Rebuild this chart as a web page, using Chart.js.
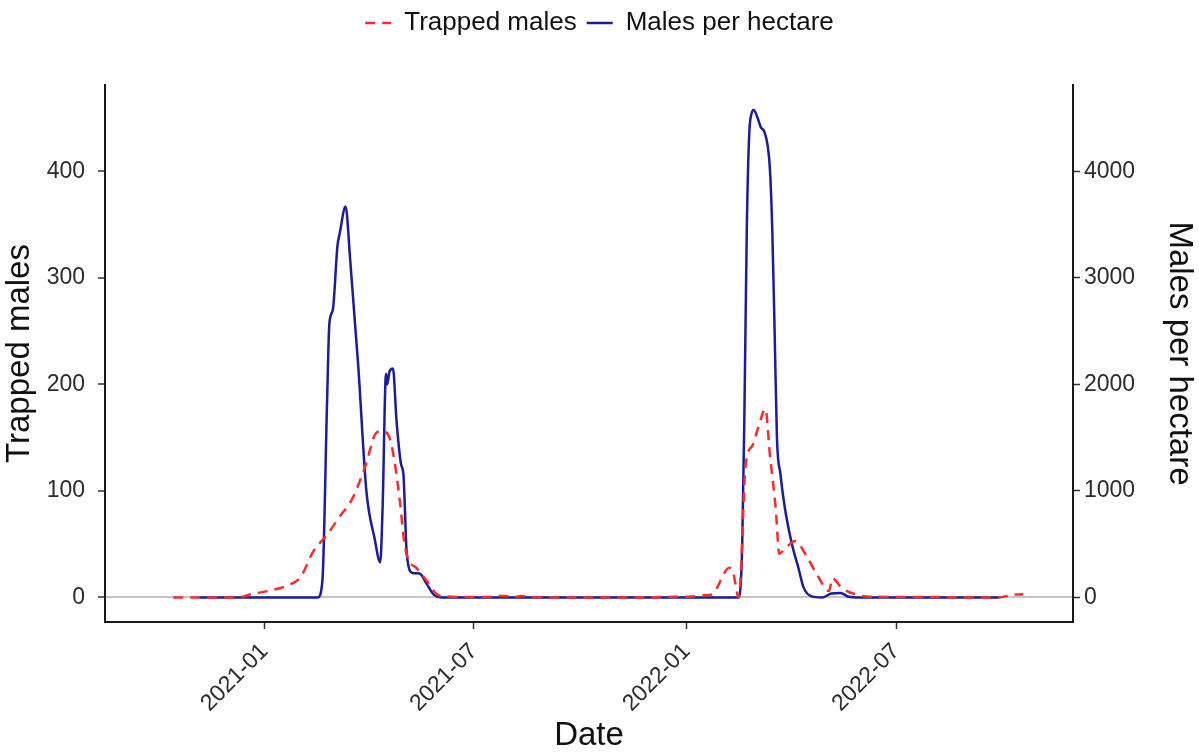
<!DOCTYPE html>
<html lang="en">
<head>
<meta charset="utf-8">
<title>Trapped males and males per hectare</title>
<script src="https://cdn.jsdelivr.net/npm/chart.js@4.4.1/dist/chart.umd.min.js"></script>
<style>
    html, body { margin: 0; padding: 0; background: #fff; }
    #chartBox { width: 1199px; height: 752px; }
</style>
</head>
<body>
<div id="chartBox"><canvas id="trapChart" width="1199" height="752"></canvas></div>
<script>
// Trapped males (left axis)
const trapDates = [
    '2020-10-14', '2020-11-01', '2020-11-20', '2020-12-05', '2020-12-12', '2020-12-20',
    '2021-01-03', '2021-01-20', '2021-02-01', '2021-02-12', '2021-02-24', '2021-03-07',
    '2021-03-18', '2021-03-29', '2021-04-08', '2021-04-13', '2021-04-19', '2021-04-23',
    '2021-04-28', '2021-05-02', '2021-05-06', '2021-05-12', '2021-05-21', '2021-05-30',
    '2021-06-07', '2021-06-20', '2021-07-10', '2021-07-27', '2021-08-05', '2021-08-11',
    '2021-08-20', '2021-09-15', '2021-10-15', '2021-11-15', '2021-12-15', '2022-01-05',
    '2022-01-17', '2022-01-23', '2022-02-07', '2022-02-10', '2022-02-15', '2022-02-21',
    '2022-02-27', '2022-03-04', '2022-03-10', '2022-03-14', '2022-03-19', '2022-03-22',
    '2022-03-27', '2022-04-05', '2022-04-14', '2022-04-25', '2022-05-04', '2022-05-07',
    '2022-05-15', '2022-05-27', '2022-06-05', '2022-07-01', '2022-08-01', '2022-09-01',
    '2022-09-28', '2022-10-09', '2022-10-19'
];
const trapCounts = [
    0, 0, 0, 0, 0.5, 3,
    6, 11, 19, 43, 59, 76,
    93, 123, 155, 156, 150, 130,
    90, 50, 34, 28, 16, 3,
    1, 0.5, 0.5, 1.5, 0.5, 1.5,
    0.5, 0, 0, 0, 0.5, 1,
    2, 3, 28, 24, 0, 125,
    143, 160, 177, 133, 83, 41,
    46, 53, 40, 19, 6, 18,
    9, 3, 1, 0.5, 0.5, 0,
    0, 2.5, 3
];

// Males per hectare (right axis)
const hectareDates = [
    '2020-11-05', '2021-02-10', '2021-02-16', '2021-02-20', '2021-02-24', '2021-02-26',
    '2021-03-01', '2021-03-05', '2021-03-07', '2021-03-12', '2021-03-16', '2021-03-23',
    '2021-03-30', '2021-04-06', '2021-04-11', '2021-04-13', '2021-04-16', '2021-04-17',
    '2021-04-19', '2021-04-22', '2021-04-25', '2021-04-29', '2021-05-01', '2021-05-04',
    '2021-05-09', '2021-05-15', '2021-05-21', '2021-05-27', '2021-06-04', '2021-09-01',
    '2022-01-01', '2022-02-15', '2022-02-18', '2022-02-20', '2022-02-22', '2022-02-24',
    '2022-02-26', '2022-02-28', '2022-03-03', '2022-03-06', '2022-03-09', '2022-03-12',
    '2022-03-14', '2022-03-16', '2022-03-18', '2022-03-20', '2022-03-23', '2022-03-27',
    '2022-04-02', '2022-04-08', '2022-04-12', '2022-04-19', '2022-04-28', '2022-05-06',
    '2022-05-14', '2022-05-21', '2022-05-30', '2022-09-28'
];
const malesPerHectare = [
    0, 0, 0, 160, 1830, 2570,
    2700, 3300, 3420, 3670, 3170, 2170,
    1000, 560, 330, 830, 2100, 2000,
    2120, 2150, 1670, 1250, 1160, 400,
    230, 225, 130, 30, 0, 0,
    0, 0, 500, 1830, 3500, 4340,
    4540, 4575, 4510, 4415, 4375, 4240,
    4010, 3440, 2500, 1500, 1160, 830,
    500, 260, 95, 10, 0, 37,
    43, 7, 0, 0
];

const xTickDates = ['2021-01-01', '2021-07-01', '2022-01-01', '2022-07-01'];
const leftTicks = [0, 100, 200, 300, 400];
const rightTicks = [0, 1000, 2000, 3000, 4000];

const FONT = '"Liberation Sans", Arial, sans-serif';

document.addEventListener('DOMContentLoaded', function() {
    initTrapChart();
});

function toPoints(dates, values) {
    return dates.map((d, i) => ({ x: Date.parse(d), y: values[i] }));
}

function monthLabel(value) {
    const d = new Date(value);
    return d.getUTCFullYear() + '-' + String(d.getUTCMonth() + 1).padStart(2, '0');
}

// legend takes the whole band above the plot
const legendBand = {
    id: 'legendBand',
    beforeInit(chart) {
        const fit = chart.legend.fit;
        chart.legend.fit = function() {
            fit.call(this);
            this.height = 85;
        };
    }
};

// keep the dataset dash / width on the line swatches
function legendLabels(chart) {
    const items = Chart.defaults.plugins.legend.labels.generateLabels(chart);
    items.forEach(item => {
        const ds = chart.data.datasets[item.datasetIndex];
        item.lineDash = ds.borderDash || [];
        item.strokeStyle = ds.borderColor;
        item.lineWidth = ds.borderWidth;
    });
    return items;
}

function initTrapChart() {
    const ctx = document.getElementById('trapChart').getContext('2d');

    new Chart(ctx, {
        type: 'line',
        data: {
            datasets: [{
                label: 'Trapped males',
                data: toPoints(trapDates, trapCounts),
                yAxisID: 'y',
                borderColor: '#ff2b2b',
                borderWidth: 2.5,
                borderDash: [10, 7],
                pointRadius: 0,
                cubicInterpolationMode: 'monotone',
                fill: false
            }, {
                label: 'Males per hectare',
                data: toPoints(hectareDates, malesPerHectare),
                yAxisID: 'y2',
                borderColor: '#1c1c9a',
                borderWidth: 2.5,
                pointRadius: 0,
                cubicInterpolationMode: 'monotone',
                fill: false
            }]
        },
        options: {
            responsive: false,
            animation: false,
            devicePixelRatio: 1,
            layout: { padding: 0 },
            plugins: {
                legend: {
                    position: 'top',
                    labels: {
                        usePointStyle: true,
                        pointStyle: 'line',
                        pointStyleWidth: 26,
                        padding: 10,
                        color: '#111',
                        font: { family: FONT, size: 26 },
                        generateLabels: legendLabels
                    }
                },
                tooltip: { enabled: false }
            },
            scales: {
                x: {
                    type: 'linear',
                    min: Date.parse('2020-08-16'),
                    max: Date.parse('2022-12-01'),
                    afterBuildTicks: axis => {
                        axis.ticks = xTickDates.map(d => ({ value: Date.parse(d) }));
                    },
                    afterFit: axis => { axis.height = 130; },
                    border: { display: true, color: '#1a1a1a', width: 2 },
                    grid: {
                        drawOnChartArea: false,
                        drawTicks: true,
                        tickLength: 7,
                        tickColor: '#333',
                        tickWidth: 1.5
                    },
                    ticks: {
                        autoSkip: false,
                        maxRotation: 45,
                        minRotation: 45,
                        padding: 9,
                        color: '#2b2b2b',
                        font: { family: FONT, size: 23 },
                        callback: value => monthLabel(value)
                    },
                    title: {
                        display: true,
                        text: 'Date',
                        color: '#111',
                        padding: 0,
                        font: { family: FONT, size: 33, lineHeight: 1 }
                    }
                },
                y: {
                    type: 'linear',
                    position: 'left',
                    min: -23,
                    max: 481,
                    afterBuildTicks: axis => {
                        axis.ticks = leftTicks.map(v => ({ value: v }));
                    },
                    afterFit: axis => { axis.width = 105; },
                    border: { display: true, color: '#1a1a1a', width: 2 },
                    grid: {
                        drawOnChartArea: true,
                        color: c => (c.tick && c.tick.value === 0 ? '#c6c6c6' : 'rgba(0,0,0,0)'),
                        lineWidth: 2,
                        tickLength: 7,
                        tickColor: '#333',
                        tickWidth: 1.5
                    },
                    ticks: {
                        padding: 13,
                        color: '#2b2b2b',
                        font: { family: FONT, size: 23 },
                        callback: value => String(value)
                    },
                    title: {
                        display: true,
                        text: 'Trapped males',
                        color: '#111',
                        padding: 0,
                        font: { family: FONT, size: 33 }
                    }
                },
                y2: {
                    type: 'linear',
                    position: 'right',
                    min: -230,
                    max: 4810,
                    afterBuildTicks: axis => {
                        axis.ticks = rightTicks.map(v => ({ value: v }));
                    },
                    afterFit: axis => { axis.width = 126; },
                    border: { display: true, color: '#1a1a1a', width: 2 },
                    grid: {
                        drawOnChartArea: false,
                        tickLength: 7,
                        tickColor: '#333',
                        tickWidth: 1.5
                    },
                    ticks: {
                        padding: 4,
                        color: '#2b2b2b',
                        font: { family: FONT, size: 23 },
                        callback: value => String(value)
                    },
                    title: {
                        display: true,
                        text: 'Males per hectare',
                        color: '#111',
                        padding: 0,
                        font: { family: FONT, size: 33 }
                    }
                }
            }
        },
        plugins: [legendBand]
    });
}
</script>
</body>
</html>
